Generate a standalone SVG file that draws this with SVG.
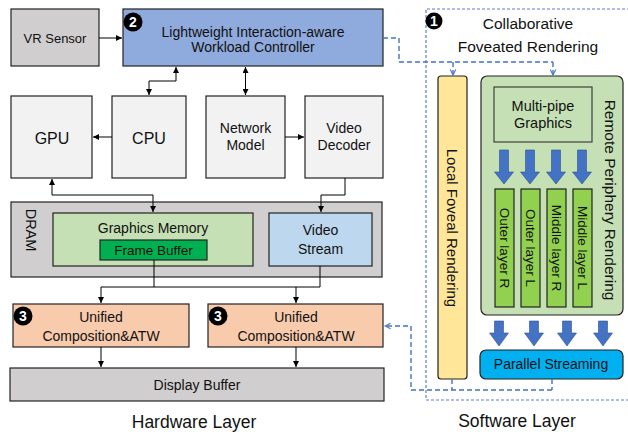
<svg xmlns="http://www.w3.org/2000/svg" xmlns:xlink="http://www.w3.org/1999/xlink" width="628" height="432" viewBox="0 0 628 432">
<style>
text{font-family:"Liberation Sans",Arial,sans-serif;fill:#111;text-anchor:middle}
.box{stroke:#222;stroke-width:1.2}
.con{fill:none;stroke:#000;stroke-width:1}
.dash{fill:none;stroke:#4472c4;stroke-width:1.4;stroke-dasharray:5,3}
.outer{fill:none;stroke:#5b7fc7;stroke-width:1.2;stroke-dasharray:3,2}
.badge circle{fill:#000}
.badge text{fill:#fff;font-weight:bold;font-size:14px}
.barrow{fill:#4472c4;stroke:#2f528f;stroke-width:0.6}
</style>
<defs>
<marker id="ah" viewBox="0 0 10 10" refX="10" refY="5" markerWidth="6" markerHeight="6" orient="auto-start-reverse"><path d="M0,0 L10,5 L0,10 z" fill="#000"/></marker>
<marker id="av" viewBox="0 0 10 10" refX="9" refY="5" markerWidth="7" markerHeight="7" markerUnits="userSpaceOnUse" orient="auto"><path d="M1,1 L9,5 L1,9" fill="none" stroke="#4472c4" stroke-width="1.5"/></marker>
<path id="bigA" d="M-4.5,0 H4.5 V22 H9.5 L0,34 L-9.5,22 H-4.5 Z"/>
<path id="smallA" d="M-4.5,0 H4.5 V12 H9.5 L0,25 L-9.5,12 H-4.5 Z"/>
</defs>

<!-- software layer outer dashed frame -->
<path class="outer" d="M630,9 H426 V400 H630"/>

<g id="vr-sensor"><rect class="box" x="11" y="9" width="88" height="57" fill="#d0cece"/><text x="55" y="42.5" font-size="13">VR Sensor</text></g>
<g id="controller"><rect class="box" x="123" y="9" width="260" height="57" fill="#8faadc"/>
<text x="253" y="37" font-size="14">Lightweight Interaction-aware</text><text x="253" y="52" font-size="14">Workload Controller</text>
<g class="badge"><circle cx="133" cy="22" r="9.5"/><text x="133" y="27">2</text></g></g>
<g id="gpu"><rect class="box" x="11" y="96" width="81" height="82" fill="#f2f2f2"/><text x="52" y="144" font-size="16">GPU</text></g>
<g id="cpu"><rect class="box" x="112" y="96" width="74" height="82" fill="#f2f2f2"/><text x="149" y="144" font-size="16">CPU</text></g>
<g id="network-model"><rect class="box" x="206" y="96" width="79" height="82" fill="#f2f2f2"/><text x="245.5" y="133" font-size="14">Network</text><text x="245.5" y="150" font-size="14">Model</text></g>
<g id="video-decoder"><rect class="box" x="305" y="96" width="78" height="82" fill="#f2f2f2"/><text x="344" y="133" font-size="14">Video</text><text x="344" y="150" font-size="14">Decoder</text></g>
<g id="dram"><rect class="box" x="11" y="202" width="371" height="75" fill="#d0cece"/><text transform="translate(31,230) rotate(90)" x="0" y="5" font-size="14.5">DRAM</text></g>
<g id="graphics-memory"><rect class="box" x="53" y="213" width="200" height="53" fill="#c5e0b4"/><text x="153" y="233" font-size="14">Graphics Memory</text></g>
<g id="frame-buffer"><rect class="box" x="100" y="240" width="107" height="20" fill="#00b050"/><text x="153.5" y="255" font-size="13.5">Frame Buffer</text></g>
<g id="video-stream"><rect class="box" x="269" y="213" width="103" height="53" fill="#bdd7ee"/><text x="320.5" y="235" font-size="14">Video</text><text x="320.5" y="254" font-size="14">Stream</text></g>
<g id="composition-1"><rect class="box" x="13" y="304" width="176" height="43" fill="#f8cbad"/><text x="101" y="322" font-size="14">Unified</text><text x="101" y="341" font-size="14">Composition&amp;ATW</text>
<g class="badge"><circle cx="23" cy="316" r="9.5"/><text x="23" y="321">3</text></g></g>
<g id="composition-2"><rect class="box" x="208" y="304" width="175" height="43" fill="#f8cbad"/><text x="296" y="322" font-size="14">Unified</text><text x="296" y="341" font-size="14">Composition&amp;ATW</text>
<g class="badge"><circle cx="218" cy="316" r="9.5"/><text x="218" y="321">3</text></g></g>
<g id="display-buffer"><rect class="box" x="10" y="368" width="374" height="33" fill="#d0cece"/><text x="197" y="390" font-size="14">Display Buffer</text></g>
<text x="194" y="428" font-size="17.5">Hardware Layer</text>

<g id="collab-title"><g class="badge"><circle cx="434" cy="21" r="8.5"/><text x="434" y="26">1</text></g>
<text x="528" y="29" font-size="15.5">Collaborative</text><text x="528" y="52" font-size="15.5">Foveated Rendering</text></g>
<g id="local-foveal"><rect class="box" x="438" y="76" width="29" height="303" rx="3" fill="#ffe699"/><text transform="translate(452,228) rotate(90)" x="0" y="5.3" font-size="15">Local Foveal Rendering</text></g>
<g id="remote-periphery"><rect class="box" x="481" y="76" width="142" height="239" rx="6" fill="#c5e0b4"/><text transform="translate(610,200) rotate(90)" x="0" y="5.4" font-size="15.5">Remote Periphery Rendering</text></g>
<g id="multi-pipe"><rect x="494" y="87" width="98" height="55" fill="#c5e0b4" stroke="#404040" stroke-width="1.2"/><text x="543" y="111" font-size="14.5">Multi-pipe</text><text x="543" y="128" font-size="14.5">Graphics</text></g>
<g id="layer-outer-r"><rect class="box" x="495" y="189" width="19" height="118" fill="#92d050"/><text transform="translate(504.5,248) rotate(90)" x="0" y="4.8" font-size="13.5">Outer layer R</text></g>
<g id="layer-outer-l"><rect class="box" x="521" y="189" width="19" height="118" fill="#92d050"/><text transform="translate(530.5,248) rotate(90)" x="0" y="4.8" font-size="13.5">Outer layer L</text></g>
<g id="layer-middle-r"><rect class="box" x="547" y="189" width="19" height="118" fill="#92d050"/><text transform="translate(556.5,248) rotate(90)" x="0" y="4.8" font-size="13.5">Middle layer R</text></g>
<g id="layer-middle-l"><rect class="box" x="573" y="189" width="19" height="118" fill="#92d050"/><text transform="translate(582.5,248) rotate(90)" x="0" y="4.8" font-size="13.5">Middle layer L</text></g>
<g id="parallel-streaming"><rect class="box" x="480" y="350" width="143" height="29" rx="6" fill="#00b0f0"/><text x="551" y="369" font-size="14">Parallel Streaming</text></g>
<text x="517" y="427" font-size="17.5">Software Layer</text>

<g id="connectors">
<path class="con" d="M99,38 H122" marker-end="url(#ah)"/>
<path class="con" d="M176,67 V81 H149 V95" marker-start="url(#ah)" marker-end="url(#ah)"/>
<path class="con" d="M245.5,67 V95" marker-start="url(#ah)" marker-end="url(#ah)"/>
<path class="con" d="M112,137 H93" marker-end="url(#ah)"/>
<path class="con" d="M285,137 H304" marker-end="url(#ah)"/>
<path class="con" d="M52,179 V195 H153 V212" marker-start="url(#ah)" marker-end="url(#ah)"/>
<path class="con" d="M345,178 V195 H321 V212" marker-end="url(#ah)"/>
<path class="con" d="M154,260 V287 M320,266 V287 M101,287 H320"/>
<path class="con" d="M101,287 V303" marker-end="url(#ah)"/>
<path class="con" d="M296,287 V303" marker-end="url(#ah)"/>
<path class="con" d="M101,347 V367" marker-end="url(#ah)"/>
<path class="con" d="M296,347 V367" marker-end="url(#ah)"/>
<path class="dash" d="M383,38 H399 V62 H553"/>
<path class="dash" d="M453,62 V75" marker-end="url(#av)"/>
<path class="dash" d="M553,62 V75" marker-end="url(#av)"/>
<path class="dash" d="M452,379 V390 M552,379 V390"/>
<path class="dash" d="M552,390 H411 V326 H385" marker-end="url(#av)"/>
<use href="#bigA" class="barrow" x="504" y="150"/>
<use href="#bigA" class="barrow" x="530" y="150"/>
<use href="#bigA" class="barrow" x="556" y="150"/>
<use href="#bigA" class="barrow" x="582" y="150"/>
<use href="#smallA" class="barrow" x="499" y="321"/>
<use href="#smallA" class="barrow" x="534" y="321"/>
<use href="#smallA" class="barrow" x="567" y="321"/>
<use href="#smallA" class="barrow" x="603" y="321"/>
</g>
</svg>
